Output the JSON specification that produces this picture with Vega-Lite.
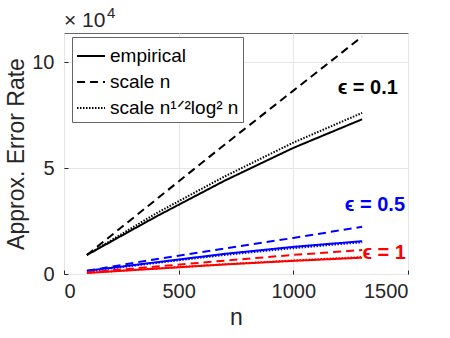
{
  "$schema": "https://vega.github.io/schema/vega-lite/v6.json",
  "autosize": {"type": "none"},
  "padding": {"left": 64, "top": 33, "right": 42, "bottom": 64},
  "width": 344,
  "height": 241,
  "background": "white",
  "config": {
    "font": "Liberation Sans",
    "view": {"stroke": "#666666", "strokeWidth": 1},
    "axis": {"labelFont": "Liberation Sans", "titleFont": "Liberation Sans", "labelColor": "#262626", "titleColor": "#262626", "labelFontSize": 20, "titleFontSize": 23, "titleFontWeight": "normal", "domain": false, "tickColor": "#262626", "tickSize": -4, "gridColor": "#e6e6e6", "grid": true}
  },
  "layer": [
    {
      "data": {"values": [
        {"n": 100, "v": 9000, "method": "empirical", "eps": "0.1"},
        {"n": 400, "v": 27000, "method": "empirical", "eps": "0.1"},
        {"n": 700, "v": 44000, "method": "empirical", "eps": "0.1"},
        {"n": 1000, "v": 59500, "method": "empirical", "eps": "0.1"},
        {"n": 1300, "v": 73000, "method": "empirical", "eps": "0.1"},
        {"n": 100, "v": 9000, "method": "scale n", "eps": "0.1"},
        {"n": 400, "v": 35000, "method": "scale n", "eps": "0.1"},
        {"n": 700, "v": 61000, "method": "scale n", "eps": "0.1"},
        {"n": 1000, "v": 86500, "method": "scale n", "eps": "0.1"},
        {"n": 1300, "v": 112000, "method": "scale n", "eps": "0.1"},
        {"n": 100, "v": 9000, "method": "scale n¹ᐟ²log² n", "eps": "0.1"},
        {"n": 400, "v": 28500, "method": "scale n¹ᐟ²log² n", "eps": "0.1"},
        {"n": 700, "v": 46000, "method": "scale n¹ᐟ²log² n", "eps": "0.1"},
        {"n": 1000, "v": 62000, "method": "scale n¹ᐟ²log² n", "eps": "0.1"},
        {"n": 1300, "v": 76000, "method": "scale n¹ᐟ²log² n", "eps": "0.1"},
        {"n": 100, "v": 1500, "method": "empirical", "eps": "0.5"},
        {"n": 400, "v": 5500, "method": "empirical", "eps": "0.5"},
        {"n": 700, "v": 9500, "method": "empirical", "eps": "0.5"},
        {"n": 1000, "v": 12800, "method": "empirical", "eps": "0.5"},
        {"n": 1300, "v": 15500, "method": "empirical", "eps": "0.5"},
        {"n": 100, "v": 1500, "method": "scale n", "eps": "0.5"},
        {"n": 400, "v": 7000, "method": "scale n", "eps": "0.5"},
        {"n": 700, "v": 12000, "method": "scale n", "eps": "0.5"},
        {"n": 1000, "v": 17000, "method": "scale n", "eps": "0.5"},
        {"n": 1300, "v": 22300, "method": "scale n", "eps": "0.5"},
        {"n": 100, "v": 1200, "method": "scale n¹ᐟ²log² n", "eps": "0.5"},
        {"n": 400, "v": 5200, "method": "scale n¹ᐟ²log² n", "eps": "0.5"},
        {"n": 700, "v": 9000, "method": "scale n¹ᐟ²log² n", "eps": "0.5"},
        {"n": 1000, "v": 12200, "method": "scale n¹ᐟ²log² n", "eps": "0.5"},
        {"n": 1300, "v": 15000, "method": "scale n¹ᐟ²log² n", "eps": "0.5"},
        {"n": 100, "v": 500, "method": "empirical", "eps": "1"},
        {"n": 400, "v": 2500, "method": "empirical", "eps": "1"},
        {"n": 700, "v": 4500, "method": "empirical", "eps": "1"},
        {"n": 1000, "v": 6200, "method": "empirical", "eps": "1"},
        {"n": 1300, "v": 7700, "method": "empirical", "eps": "1"},
        {"n": 100, "v": 700, "method": "scale n", "eps": "1"},
        {"n": 400, "v": 3500, "method": "scale n", "eps": "1"},
        {"n": 700, "v": 6300, "method": "scale n", "eps": "1"},
        {"n": 1000, "v": 9000, "method": "scale n", "eps": "1"},
        {"n": 1300, "v": 11300, "method": "scale n", "eps": "1"},
        {"n": 100, "v": 500, "method": "scale n¹ᐟ²log² n", "eps": "1"},
        {"n": 400, "v": 2600, "method": "scale n¹ᐟ²log² n", "eps": "1"},
        {"n": 700, "v": 4600, "method": "scale n¹ᐟ²log² n", "eps": "1"},
        {"n": 1000, "v": 6400, "method": "scale n¹ᐟ²log² n", "eps": "1"},
        {"n": 1300, "v": 8000, "method": "scale n¹ᐟ²log² n", "eps": "1"}
      ]},
      "mark": {"type": "line", "strokeWidth": 2},
      "encoding": {
        "x": {"field": "n", "type": "quantitative", "scale": {"domain": [0, 1500], "nice": false}, "axis": {"values": [0, 500, 1000, 1500], "format": "d", "title": "n", "labelPadding": 11, "titlePadding": 5}},
        "y": {"field": "v", "type": "quantitative", "scale": {"domain": [0, 113700], "nice": false}, "axis": {"values": [0, 50000, 100000], "labelExpr": "datum.value / 10000", "title": "Approx. Error Rate", "labelPadding": 14, "titlePadding": 3}},
        "color": {"field": "eps", "type": "nominal", "scale": {"domain": ["0.1", "0.5", "1"], "range": ["#000000", "#0000ff", "#ff0000"]}, "legend": null},
        "strokeDash": {"field": "method", "type": "nominal", "scale": {"domain": ["empirical", "scale n", "scale n¹ᐟ²log² n"], "range": [[1, 0], [8, 5], [1.5, 1.5]]}, "legend": {"title": null, "orient": "none", "legendX": 8, "legendY": 4, "symbolType": "stroke", "symbolSize": 784, "symbolStrokeWidth": 2, "symbolStrokeColor": "black", "labelFontSize": 19, "labelColor": "#000000", "labelFont": "Liberation Sans", "strokeColor": "#666666", "fillColor": "white", "padding": 4, "rowPadding": 1, "labelOffset": 4, "labelLimit": 300}}
      }
    },
    {
      "data": {"values": [
        {"n": 1456, "v": 87700, "label": "ϵ = 0.1", "eps": "0.1"},
        {"n": 1487, "v": 32500, "label": "ϵ = 0.5", "eps": "0.5"},
        {"n": 1491, "v": 9900, "label": "ϵ = 1", "eps": "1"}
      ]},
      "mark": {"type": "text", "align": "right", "baseline": "middle", "fontSize": 20, "fontWeight": "bold", "font": "Liberation Sans"},
      "encoding": {
        "x": {"field": "n", "type": "quantitative"},
        "y": {"field": "v", "type": "quantitative"},
        "text": {"field": "label"},
        "color": {"field": "eps", "type": "nominal", "legend": null}
      }
    },
    {
      "data": {"values": [{"n": 0, "v": 116500, "label": "× 10"}]},
      "mark": {"type": "text", "align": "left", "baseline": "alphabetic", "fontSize": 21, "font": "Liberation Sans", "color": "#262626"},
      "encoding": {
        "x": {"field": "n", "type": "quantitative"},
        "y": {"field": "v", "type": "quantitative"},
        "text": {"field": "label"}
      }
    },
    {
      "data": {"values": [{"n": 187, "v": 120800, "label": "4"}]},
      "mark": {"type": "text", "align": "left", "baseline": "alphabetic", "fontSize": 15, "font": "Liberation Sans", "color": "#262626"},
      "encoding": {
        "x": {"field": "n", "type": "quantitative"},
        "y": {"field": "v", "type": "quantitative"},
        "text": {"field": "label"}
      }
    }
  ]
}
